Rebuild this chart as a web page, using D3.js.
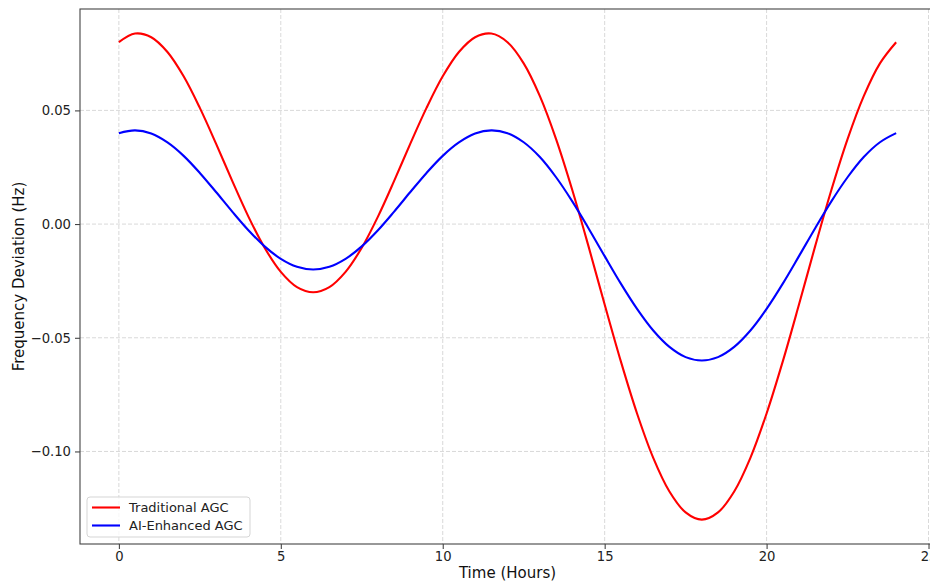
<!DOCTYPE html>
<html>
<head>
<meta charset="utf-8">
<script src="https://cdn.jsdelivr.net/npm/d3@7"></script>
<style>
  body { margin: 0; background: #fff; }
  svg { display: block; font-family: "DejaVu Sans", sans-serif; }
</style>
</head>
<body>
<svg id="chart" width="930" height="583"></svg>
<script>
// Time in hours (every 0.5 h)
const hours = d3.range(0, 24.01, 0.5);
const traditional = [0.0800, 0.0838, 0.0822, 0.0757, 0.0650, 0.0511, 0.0354, 0.0190, 0.0033, -0.0104,
  -0.0210, -0.0277, -0.0300, -0.0277, -0.0210, -0.0104, 0.0033, 0.0190, 0.0354, 0.0511,
  0.0650, 0.0757, 0.0822, 0.0838, 0.0800, 0.0707, 0.0563, 0.0374, 0.0150, -0.0097,
  -0.0354, -0.0604, -0.0833, -0.1028, -0.1176, -0.1268, -0.1300, -0.1268, -0.1176, -0.1028,
  -0.0833, -0.0604, -0.0354, -0.0097, 0.0150, 0.0374, 0.0563, 0.0707, 0.0800];
const aiEnhanced = [0.0400, 0.0412, 0.0398, 0.0359, 0.0300, 0.0225, 0.0141, 0.0055, -0.0027, -0.0098,
  -0.0153, -0.0188, -0.0200, -0.0188, -0.0153, -0.0098, -0.0027, 0.0055, 0.0141, 0.0225,
  0.0300, 0.0359, 0.0398, 0.0412, 0.0400, 0.0360, 0.0295, 0.0206, 0.0100, -0.0018,
  -0.0141, -0.0262, -0.0373, -0.0468, -0.0540, -0.0585, -0.0600, -0.0585, -0.0540, -0.0468,
  -0.0373, -0.0262, -0.0141, -0.0018, 0.0100, 0.0206, 0.0295, 0.0360, 0.0400];
const xTicks = [0, 5, 10, 15, 20, 25];
const yTicks = [-0.10, -0.05, 0.00, 0.05];
const seriesNames = ["Traditional AGC", "AI-Enhanced AGC"];
const seriesColors = ["#ff0000", "#0000ff"];

const svg = d3.select("#chart");
const mLeft = 80, mTop = 9, mRight = 935, mBottom = 544;

const x = d3.scaleLinear().domain([-1.2, 25.2]).range([mLeft, mRight]);
const y = d3.scaleLinear().domain([-0.1407, 0.0946]).range([mBottom, mTop]);

const fmtY = v => {
  const s = Math.abs(v).toFixed(2);
  return (v < -1e-9 ? "\u2212" : "") + s;
};

// grid
const grid = svg.append("g");
xTicks.forEach(t => {
  grid.append("line").attr("x1", x(t)).attr("x2", x(t)).attr("y1", mTop).attr("y2", mBottom)
    .attr("stroke", "#cfcfcf").attr("stroke-width", 0.8).attr("stroke-dasharray", "4,2");
});
yTicks.forEach(t => {
  grid.append("line").attr("x1", mLeft).attr("x2", mRight).attr("y1", y(t)).attr("y2", y(t))
    .attr("stroke", "#cfcfcf").attr("stroke-width", 0.8).attr("stroke-dasharray", "4,2");
});

// axes
const xAxis = d3.axisBottom(x).tickValues(xTicks).tickSize(5).tickPadding(3).tickFormat(d3.format("d"));
const yAxis = d3.axisLeft(y).tickValues(yTicks).tickSize(5).tickPadding(4).tickFormat(fmtY);

const gx = svg.append("g").attr("transform", `translate(0,${mBottom})`).call(xAxis);
const gy = svg.append("g").attr("transform", `translate(${mLeft},0)`).call(yAxis);
[gx, gy].forEach(g => {
  g.select(".domain").remove();
  g.selectAll(".tick line").attr("stroke", "#333").attr("stroke-width", 1);
  g.selectAll(".tick text").attr("fill", "#222").style("font-size", "13.2px")
    .style("font-family", "DejaVu Sans, sans-serif");
});

// spines
svg.append("rect").attr("x", mLeft).attr("y", mTop).attr("width", mRight - mLeft).attr("height", mBottom - mTop)
  .attr("fill", "none").attr("stroke", "#444").attr("stroke-width", 1.1);

// lines
const line = d3.line().x((d, i) => x(hours[i])).y(d => y(d)).curve(d3.curveCatmullRom);
[traditional, aiEnhanced].forEach((s, i) => {
  svg.append("path").datum(s).attr("d", line).attr("fill", "none")
    .attr("stroke", seriesColors[i]).attr("stroke-width", 2.1).attr("stroke-linejoin", "round");
});

// labels
svg.append("text").attr("x", (mLeft + mRight) / 2).attr("y", 578).attr("text-anchor", "middle")
  .style("font-size", "15px").attr("fill", "#111").text("Time (Hours)");
svg.append("text").attr("transform", `translate(24,${(mTop + mBottom) / 2}) rotate(-90)`)
  .attr("text-anchor", "middle").style("font-size", "15px").attr("fill", "#111")
  .text("Frequency Deviation (Hz)");

// legend
const lg = svg.append("g").attr("transform", "translate(87,497)");
lg.append("rect").attr("width", 163).attr("height", 40).attr("rx", 3)
  .attr("fill", "#fff").attr("fill-opacity", 0.8).attr("stroke", "#d5d5d5").attr("stroke-width", 1);
seriesNames.forEach((n, i) => {
  const yy = 10.5 + i * 18;
  lg.append("line").attr("x1", 5).attr("x2", 33).attr("y1", yy).attr("y2", yy)
    .attr("stroke", seriesColors[i]).attr("stroke-width", 2.1);
  lg.append("text").attr("x", 42).attr("y", yy + 4.7).style("font-size", "13px")
    .attr("fill", "#222").text(n);
});
</script>
</body>
</html>
